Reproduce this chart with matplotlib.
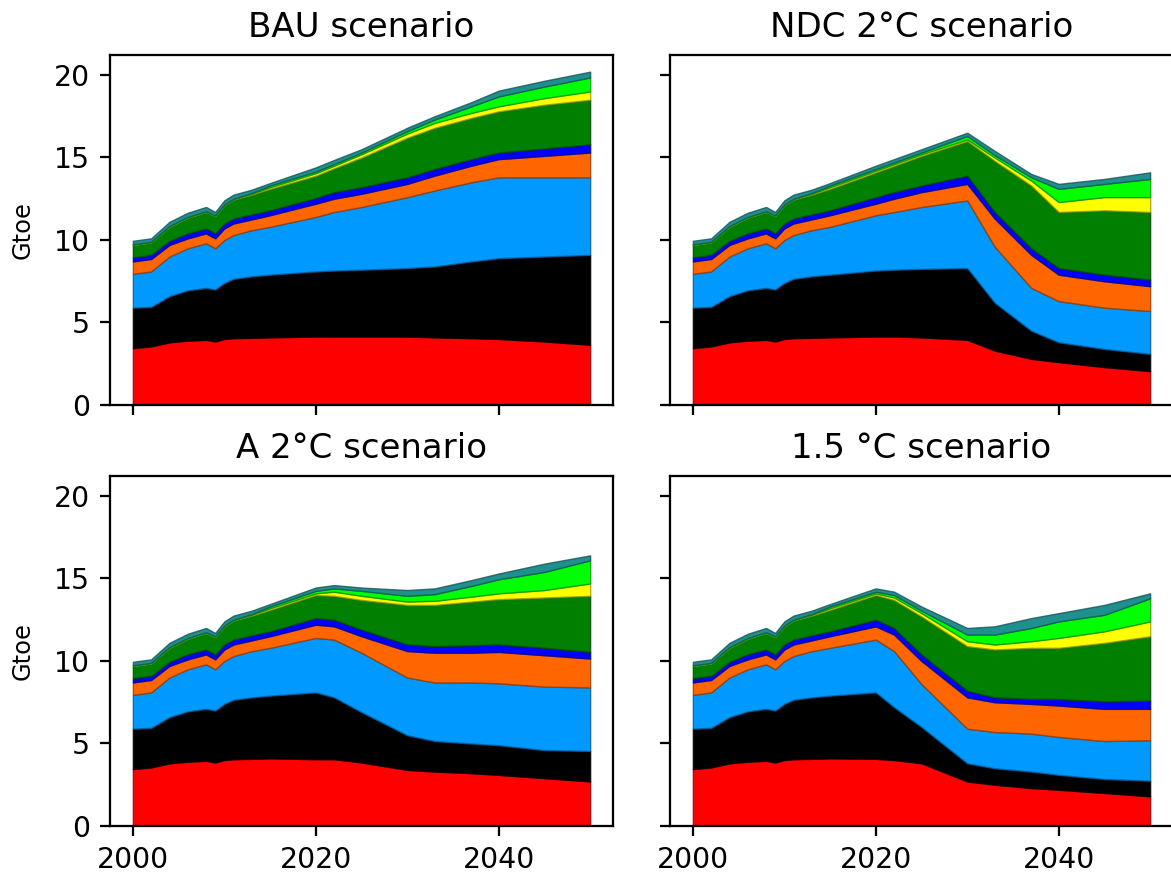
import numpy as np
import matplotlib
matplotlib.use("Agg")
import matplotlib.pyplot as plt
from matplotlib.colors import to_rgb

# years with data points
years_hist = [2000, 2002, 2004, 2006, 2008, 2009, 2010, 2011, 2013]
years_future = [2015, 2020, 2022, 2025, 2030, 2033, 2037, 2040, 2045, 2050]

# stack colours, bottom to top
colors = ['#ff0000', '#000000', '#0099ff', '#ff6600', '#0000ff',
          '#007f00', '#ffff00', '#00ff00', '#1f8f8f']

# cumulative top of each layer (Gtoe)
hist_tops = [
    [3.45, 3.55, 3.8, 3.9, 3.95, 3.85, 4.0, 4.05, 4.07],
    [5.9, 5.95, 6.6, 6.95, 7.1, 7.0, 7.4, 7.65, 7.8],
    [7.95, 8.1, 9.0, 9.5, 9.8, 9.5, 10.0, 10.3, 10.6],
    [8.7, 8.85, 9.7, 10.1, 10.4, 10.1, 10.7, 11.0, 11.25],
    [8.95, 9.1, 9.95, 10.4, 10.7, 10.4, 11.0, 11.3, 11.55],
    [9.7, 9.85, 10.8, 11.35, 11.7, 11.45, 12.1, 12.45, 12.75],
    [9.72, 9.87, 10.82, 11.37, 11.72, 11.47, 12.12, 12.47, 12.8],
    [9.74, 9.89, 10.85, 11.4, 11.75, 11.5, 12.15, 12.5, 12.85],
    [9.95, 10.1, 11.1, 11.65, 12.0, 11.7, 12.4, 12.75, 13.05],
]

bau_tops = [
    [4.1, 4.15, 4.15, 4.15, 4.15, 4.1, 4.05, 4.0, 3.85, 3.65],
    [7.9, 8.1, 8.15, 8.2, 8.3, 8.4, 8.7, 8.9, 9.0, 9.1],
    [10.8, 11.4, 11.7, 12.0, 12.6, 13.0, 13.5, 13.8, 13.8, 13.8],
    [11.5, 12.2, 12.5, 12.8, 13.4, 13.9, 14.5, 14.9, 15.1, 15.3],
    [11.8, 12.55, 12.9, 13.2, 13.8, 14.3, 14.9, 15.3, 15.55, 15.8],
    [13.1, 13.9, 14.35, 15.0, 16.2, 16.8, 17.4, 17.8, 18.2, 18.5],
    [13.2, 14.05, 14.5, 15.2, 16.45, 17.1, 17.7, 18.1, 18.6, 19.0],
    [13.3, 14.15, 14.6, 15.3, 16.6, 17.3, 18.1, 18.7, 19.3, 19.85],
    [13.45, 14.4, 14.85, 15.5, 16.8, 17.5, 18.35, 19.05, 19.65, 20.2],
]

ndc_tops = [
    [4.1, 4.15, 4.15, 4.1, 3.95, 3.3, 2.8, 2.6, 2.3, 2.05],
    [7.9, 8.15, 8.2, 8.25, 8.3, 6.2, 4.5, 3.8, 3.4, 3.1],
    [10.8, 11.5, 11.7, 12.0, 12.4, 9.6, 7.1, 6.3, 5.9, 5.7],
    [11.5, 12.2, 12.5, 12.9, 13.4, 11.3, 9.1, 7.9, 7.5, 7.2],
    [11.8, 12.6, 12.9, 13.3, 13.9, 11.7, 9.5, 8.3, 7.9, 7.6],
    [13.1, 14.1, 14.5, 15.1, 16.0, 14.8, 13.3, 11.7, 11.8, 11.7],
    [13.2, 14.2, 14.6, 15.2, 16.1, 15.0, 13.6, 12.3, 12.6, 12.6],
    [13.3, 14.3, 14.7, 15.3, 16.3, 15.15, 13.8, 13.1, 13.4, 13.7],
    [13.45, 14.5, 14.9, 15.5, 16.5, 15.4, 14.0, 13.4, 13.7, 14.1],
]

a2c_tops = [
    [4.1, 4.05, 4.05, 3.85, 3.4, 3.3, 3.2, 3.1, 2.9, 2.7],
    [7.9, 8.1, 7.8, 6.9, 5.5, 5.15, 5.0, 4.9, 4.6, 4.55],
    [10.8, 11.4, 11.3, 10.5, 9.0, 8.7, 8.7, 8.65, 8.45, 8.4],
    [11.5, 12.2, 12.1, 11.5, 10.6, 10.5, 10.5, 10.55, 10.35, 10.15],
    [11.8, 12.6, 12.5, 11.9, 11.0, 10.9, 10.95, 11.0, 10.8, 10.55],
    [13.1, 14.0, 13.95, 13.7, 13.4, 13.4, 13.6, 13.75, 13.85, 13.95],
    [13.2, 14.1, 14.2, 13.95, 13.6, 13.65, 13.9, 14.1, 14.3, 14.7],
    [13.3, 14.25, 14.4, 14.25, 13.95, 14.05, 14.55, 14.95, 15.4, 16.1],
    [13.45, 14.45, 14.6, 14.45, 14.3, 14.4, 14.9, 15.3, 15.9, 16.4],
]

c15_tops = [
    [4.1, 4.07, 4.0, 3.8, 2.7, 2.5, 2.3, 2.2, 2.0, 1.8],
    [7.9, 8.1, 7.2, 6.0, 3.8, 3.5, 3.3, 3.1, 2.85, 2.75],
    [10.8, 11.3, 10.6, 8.6, 5.9, 5.7, 5.6, 5.4, 5.15, 5.2],
    [11.5, 12.1, 11.6, 10.0, 7.8, 7.5, 7.4, 7.3, 7.1, 7.1],
    [11.8, 12.5, 12.0, 10.4, 8.2, 7.8, 7.7, 7.7, 7.55, 7.6],
    [13.1, 14.0, 13.7, 12.7, 10.9, 10.7, 10.8, 10.8, 11.1, 11.5],
    [13.2, 14.1, 13.85, 12.9, 11.2, 11.0, 11.2, 11.4, 11.8, 12.4],
    [13.3, 14.2, 14.0, 13.05, 11.6, 11.6, 12.0, 12.4, 12.8, 13.8],
    [13.45, 14.4, 14.2, 13.3, 12.0, 12.1, 12.6, 12.9, 13.4, 14.1],
]

titles = ['BAU scenario', 'NDC 2°C scenario', 'A 2°C scenario', '1.5 °C scenario']

S = 2.04  # scale of the original render

fig = plt.figure(figsize=(11.71, 8.75), dpi=100)
w = 503 / 1171
h = 350 / 875
positions = [(110 / 1171, 470 / 875), (670 / 1171, 470 / 875),
             (110 / 1171, 49 / 875), (670 / 1171, 49 / 875)]
axes = []
for i, (l, b) in enumerate(positions):
    kw = {}
    if i > 0:
        kw = dict(sharex=axes[0], sharey=axes[0])
    axes.append(fig.add_axes([l, b, w, h], **kw))


def darker(c, f=0.6):
    r, g, b = to_rgb(c)
    return (r * f, g * f, b * f, 0.8)


x = np.array(years_hist + years_future)
for i, (ax, tops) in enumerate(zip(axes, [bau_tops, ndc_tops, a2c_tops, c15_tops])):
    cum = np.hstack([np.array(hist_tops), np.array(tops)])
    layers = np.diff(np.vstack([np.zeros(len(x)), cum]), axis=0)
    polys = ax.stackplot(x, layers, colors=colors)
    for p, c in zip(polys, colors):
        p.set_edgecolor(darker(c))
        p.set_linewidth(1.0)
    ax.set_title(titles[i], fontsize=12 * S, pad=6.5 * S)
    ax.tick_params(labelsize=10 * S, length=3.5 * S, width=0.8 * S, pad=3.5 * S)
    for sp in ax.spines.values():
        sp.set_linewidth(0.8 * S)
    if i % 2 == 0:
        ax.set_ylabel('Gtoe', fontsize=8.5 * S, labelpad=7 * S)
    else:
        ax.tick_params(labelleft=False)
    if i < 2:
        ax.tick_params(labelbottom=False)

axes[0].set_xticks([2000, 2020, 2040])
axes[0].set_yticks([0, 5, 10, 15, 20])

fig.savefig('out.png', dpi=100)
